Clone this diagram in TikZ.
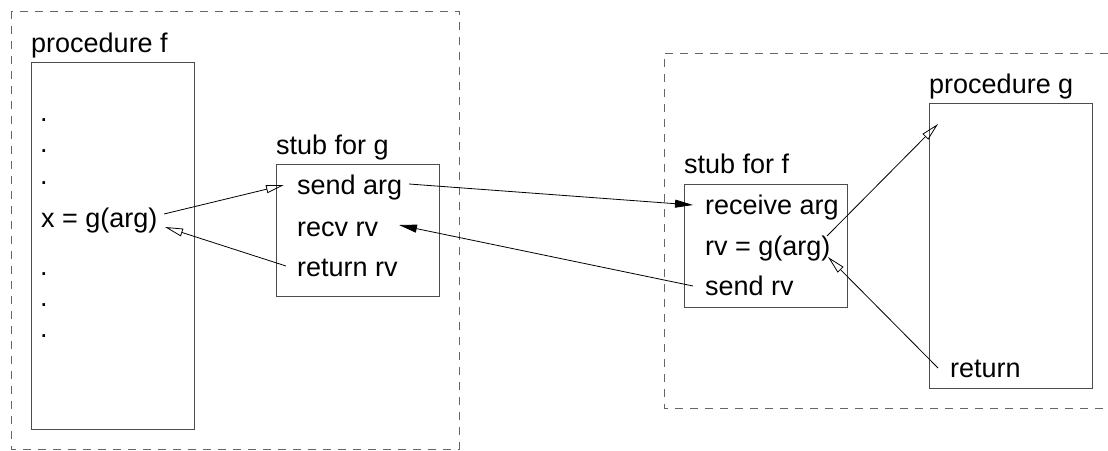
\documentclass[tikz,border=0pt]{standalone}
\usepackage{fontspec}
\setmainfont{Liberation Sans}
\usetikzlibrary{arrows.meta}
\begin{document}
\begin{tikzpicture}[x=1pt,y=-1pt,
  txt/.style={anchor=base west,inner sep=0pt,font=\fontsize{27}{32}\selectfont},
  box/.style={draw=black!70,line width=1pt},
  dbox/.style={draw=black!60,line width=0.9pt,dash pattern=on 8pt off 7pt},
  openarrow/.style={line width=0.8pt,-{Triangle[open,length=18pt,width=8pt]}},
  fillarrow/.style={line width=0.8pt,-{Triangle[length=18pt,width=8pt]}}]
\useasboundingbox (0,0) rectangle (1108,450);
% dashed machine boundaries
\draw[dbox] (11,11) rectangle (459,449);
\draw[dbox] (1108,53) -- (664,53) -- (664,408) -- (1108,408);
% procedure f
\node[txt] (pfl) at (31,52) {procedure f};
\draw[box] (31,62) rectangle (194,429);
\node[txt] (d1) at (40,121) {.};
\node[txt] (d2) at (40,152) {.};
\node[txt] (d3) at (40,184) {.};
\node[txt] (xg) at (41,227) {x = g(arg)};
\node[txt] (d4) at (40,275) {.};
\node[txt] (d5) at (40,306) {.};
\node[txt] (d6) at (40,337) {.};
% stub for g
\node[txt] (sgl) at (276,154) {stub for g};
\draw[box] (276,164) rectangle (439,296);
\node[txt] (sendarg) at (297,194) {send arg};
\node[txt] (recvrv) at (297,236) {recv rv};
\node[txt] (retrv) at (297,276) {return rv};
% stub for f
\node[txt] (sfl) at (684,173) {stub for f};
\draw[box] (684,184) rectangle (847,307);
\node[txt] (recarg) at (705,214) {receive arg};
\node[txt] (rvg) at (705,255) {rv = g(arg)};
\node[txt] (sendrv) at (705,295) {send rv};
% procedure g
\node[txt] (pgl) at (929,93) {procedure g};
\draw[box] (929,103) rectangle (1092,388);
\node[txt] (ret) at (950,377) {return};
% connector endpoints
\coordinate (xgout) at (164,214);
\coordinate (xgin) at (165,227);
\coordinate (sendargin) at (284,185);
\coordinate (sendargout) at (409,184);
\coordinate (retrvout) at (286,266);
\coordinate (recvrvin) at (399,225);
\coordinate (recargin) at (693,205);
\coordinate (sendrvout) at (693,286);
\coordinate (rvgout) at (827,236);
\coordinate (rvgin) at (828,257);
\coordinate (pgin) at (938,124);
\coordinate (retout) at (938,368);
% connectors
\draw[openarrow] (xgout) -- (sendargin);
\draw[openarrow] (retrvout) -- (xgin);
\draw[fillarrow] (sendargout) -- (recargin);
\draw[fillarrow] (sendrvout) -- (recvrvin);
\draw[openarrow] (rvgout) -- (pgin);
\draw[openarrow] (retout) -- (rvgin);
\end{tikzpicture}
\end{document}
